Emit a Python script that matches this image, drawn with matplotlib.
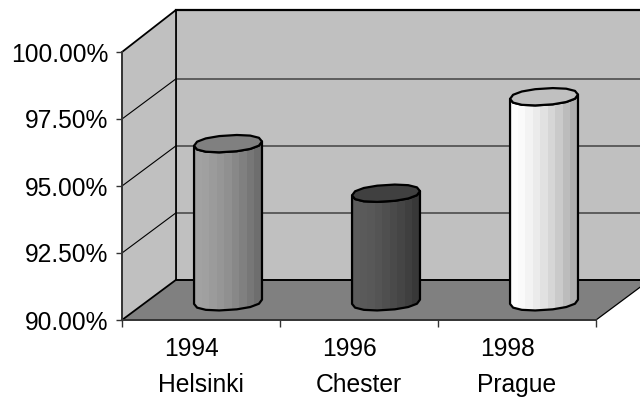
import numpy as np
import matplotlib
matplotlib.use('Agg')
import matplotlib.pyplot as plt
from matplotlib.patches import Polygon

plt.rcParams['font.family'] = ['Liberation Sans', 'DejaVu Sans']

# values
years = ['1994', '1996', '1998']
cities = ['Helsinki', 'Chester', 'Prague']
rates = [95.9, 94.05, 97.65]
y_ticks = [90.0, 92.5, 95.0, 97.5, 100.0]

# colours of the three cylinders, left side -> right side
light = ['#a2a2a2', '#5c5c5c', '#fdfdfd']
dark = ['#6e6e6e', '#383838', '#aeaeae']
tops = ['#808080', '#404040', '#c0c0c0']

# 3d look: how far the back wall sits from the front axis
depth_x = 0.342
depth_y = 1.5
depth_top = 1.57
radius_x = 0.215
radius_y = 0.31
skew = 0.08
base = 90.0
n_cat = len(years)

W, H = 640, 401
fig = plt.figure(figsize=(W / 100, H / 100), dpi=100)
ax = fig.add_axes([122 / W, (H - 320) / H, (596 - 122) / W, 268 / H])
ax.set_xlim(0, n_cat)
ax.set_ylim(90, 100)
ax.set_facecolor('none')

top = y_ticks[-1]
# back wall, side wall, floor
ax.add_patch(Polygon([(depth_x, base + depth_y), (n_cat + depth_x, base + depth_y),
                      (n_cat + depth_x, top + depth_top), (depth_x, top + depth_top)],
                     fc='#c0c0c0', ec='none', clip_on=False, zorder=1))
ax.add_patch(Polygon([(0, base), (depth_x, base + depth_y), (depth_x, top + depth_top), (0, top)],
                     fc='#c0c0c0', ec='none', clip_on=False, zorder=1))
ax.add_patch(Polygon([(0, base), (n_cat, base), (n_cat + depth_x, base + depth_y), (depth_x, base + depth_y)],
                     fc='#808080', ec='none', clip_on=False, zorder=1))

# grid lines on the walls
for v in y_ticks[1:-1]:
    ax.plot([0, depth_x], [v, v + depth_y], color='black', lw=0.8, clip_on=False, zorder=2)
    ax.plot([depth_x, n_cat + depth_x], [v + depth_y, v + depth_y], color='#555555', lw=1.3,
            clip_on=False, zorder=2)
ax.plot([0, depth_x, depth_x], [top, top + depth_top, base + depth_y], color='black', lw=1.3,
        clip_on=False, zorder=3)
ax.plot([0, depth_x], [base, base + depth_y], color='black', lw=1.3, clip_on=False, zorder=3)
ax.plot([depth_x, n_cat + depth_x], [top + depth_top, top + depth_top], color='black', lw=1.6,
        clip_on=False, zorder=3)
ax.plot([depth_x, n_cat + depth_x], [base + depth_y, base + depth_y], color='black', lw=1.4,
        clip_on=False, zorder=3)
ax.plot([n_cat, n_cat + depth_x], [base, base + depth_y], color='black', lw=0.9,
        clip_on=False, zorder=3)


def ring(cx, cy, t):
    # slightly squared ellipse, left side sits lower than the right one
    c = np.sign(np.cos(t)) * np.abs(np.cos(t)) ** 0.9
    s = np.sign(np.sin(t)) * np.abs(np.sin(t)) ** 0.9
    return cx + radius_x * c, cy + radius_y * s + skew * c


# the originals are coarse polygons, so only a few points per ring
for i, rate in enumerate(rates):
    cx = i + 0.5 + depth_x / 2
    floor_y = base + depth_y / 2 - 0.07
    top_y = floor_y + (rate - base)

    t_low = np.linspace(np.pi, 2 * np.pi, 8)
    lx, ly = ring(cx, floor_y, t_low)
    ux, uy = ring(cx, top_y, t_low)
    body = np.column_stack([np.r_[lx, ux[::-1]], np.r_[ly, uy[::-1]]])
    outline = Polygon(body, closed=True, fc='none', ec='black', lw=1.6, zorder=6, clip_on=False,
                      joinstyle='round')
    ax.add_patch(outline)

    # vertical shading strips, clipped to the cylinder body
    edges = np.linspace(cx - radius_x, cx + radius_x, 10)
    c0 = np.array(matplotlib.colors.to_rgb(light[i]))
    c1 = np.array(matplotlib.colors.to_rgb(dark[i]))
    clip = Polygon(body, closed=True, transform=ax.transData)
    for k in range(len(edges) - 1):
        shade = c0 + (c1 - c0) * (k / (len(edges) - 2)) ** 1.5
        strip = ax.fill_between([edges[k], edges[k + 1] + 0.003], floor_y - 1, top_y + 1,
                                color=shade, lw=0, zorder=5)
        strip.set_clip_path(clip)

    t_full = np.linspace(0, 2 * np.pi, 15)
    tx, ty = ring(cx, top_y, t_full)
    ax.add_patch(Polygon(np.column_stack([tx, ty]), closed=True, fc=tops[i], ec='black', lw=1.6,
                         zorder=7, clip_on=False, joinstyle='round'))

# axes
for side in ['top', 'right']:
    ax.spines[side].set_visible(False)
for side in ['left', 'bottom']:
    ax.spines[side].set_color('#333333')
    ax.spines[side].set_linewidth(1.4)
    ax.spines[side].set_zorder(8)

ax.set_yticks(y_ticks)
ax.set_yticklabels([f'{v:.2f}%' for v in y_ticks], fontsize=17.7, color='black')
ax.tick_params(axis='y', length=4, width=1, color='#333333', pad=6)

ax.set_xticks(range(n_cat + 1))
ax.set_xticklabels([])
ax.tick_params(axis='x', which='major', length=5, width=1, color='#333333')
ax.set_xticks([i + 0.5 for i in range(n_cat)], minor=True)
ax.set_xticklabels(cities, minor=True, fontsize=17.7, color='black')
ax.tick_params(axis='x', which='minor', length=0, pad=38)

for i, year in enumerate(years):
    ax.annotate(year, (i + 0.5, base), xytext=(-9, -29), textcoords='offset pixels',
                ha='center', va='center', fontsize=17.7, color='black', annotation_clip=False)

fig.savefig('out.png', dpi=100)
